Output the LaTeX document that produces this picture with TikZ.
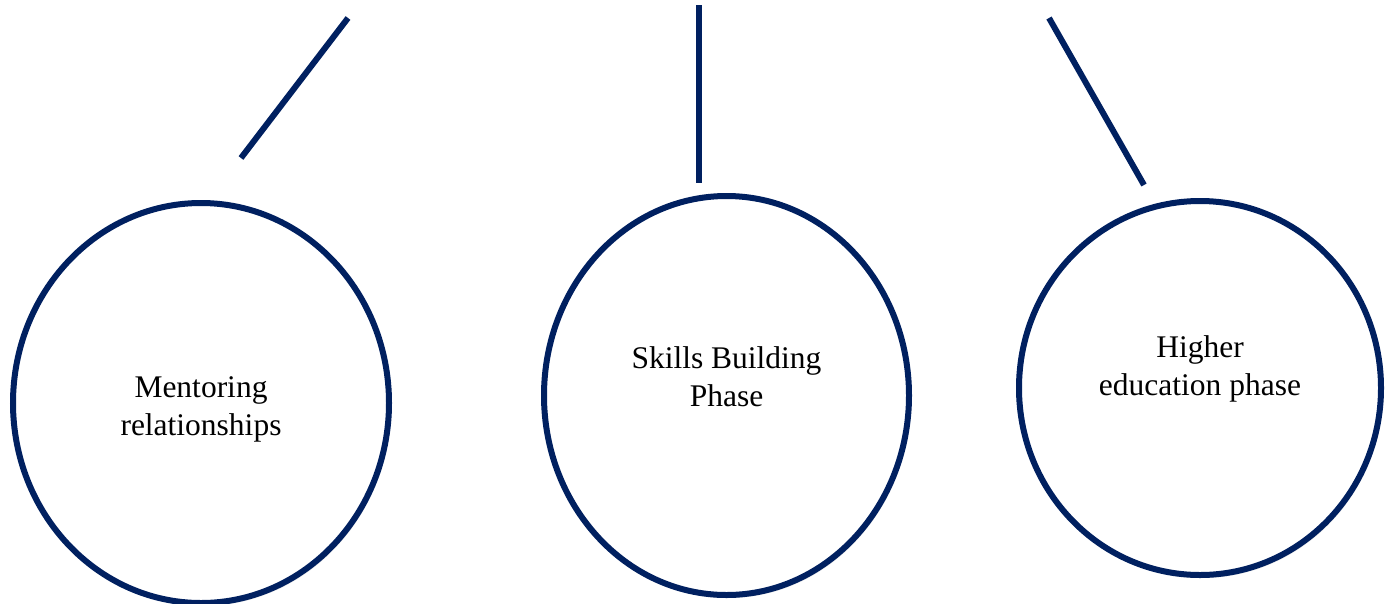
\documentclass[tikz,border=0pt]{standalone}
\usepackage{fontspec}
\setmainfont{Liberation Serif}
\usetikzlibrary{shapes.geometric,shadows}
\definecolor{navy}{RGB}{0,32,96}
\tikzset{
  phase/.style={ellipse,draw=navy,line width=6pt,fill=white,inner sep=0pt,
    drop shadow={opacity=0.18,shadow xshift=2pt,shadow yshift=-3pt}},
  phasetext/.style={align=center,font=\fontsize{31.5}{38}\selectfont},
  stem/.style={draw=navy,line width=6pt}
}
\begin{document}
\begin{tikzpicture}[x=1pt,y=-1pt]
   \useasboundingbox (0,0) rectangle (1391,603);
   % the three phases
   \node[phase,minimum width=376pt,minimum height=400pt] (mentor) at (201,403) {};
   \node[phase,minimum width=365pt,minimum height=399pt] (skills) at (726.5,395.5) {};
   \node[phase,minimum width=362pt,minimum height=374pt] (higher) at (1200,388) {};
   \node[phasetext] (mentortxt) at ([yshift=-6pt]mentor.center) {Mentoring\\relationships};
   \node[phasetext] (skillstxt) at ([yshift=19pt]skills.center) {Skills Building\\Phase};
   \node[phasetext] (highertxt) at ([yshift=19pt]higher.center) {Higher\\education phase};
   % stems
   \coordinate (m1) at (348,18);  \coordinate (m2) at (241,158);
   \coordinate (s1) at (699,5);   \coordinate (s2) at (699,183);
   \coordinate (h1) at (1049,18); \coordinate (h2) at (1144,185);
   \draw[stem] (m1) -- (m2);
   \draw[stem] (s1) -- (s2);
   \draw[stem] (h1) -- (h2);
\end{tikzpicture}
\end{document}
